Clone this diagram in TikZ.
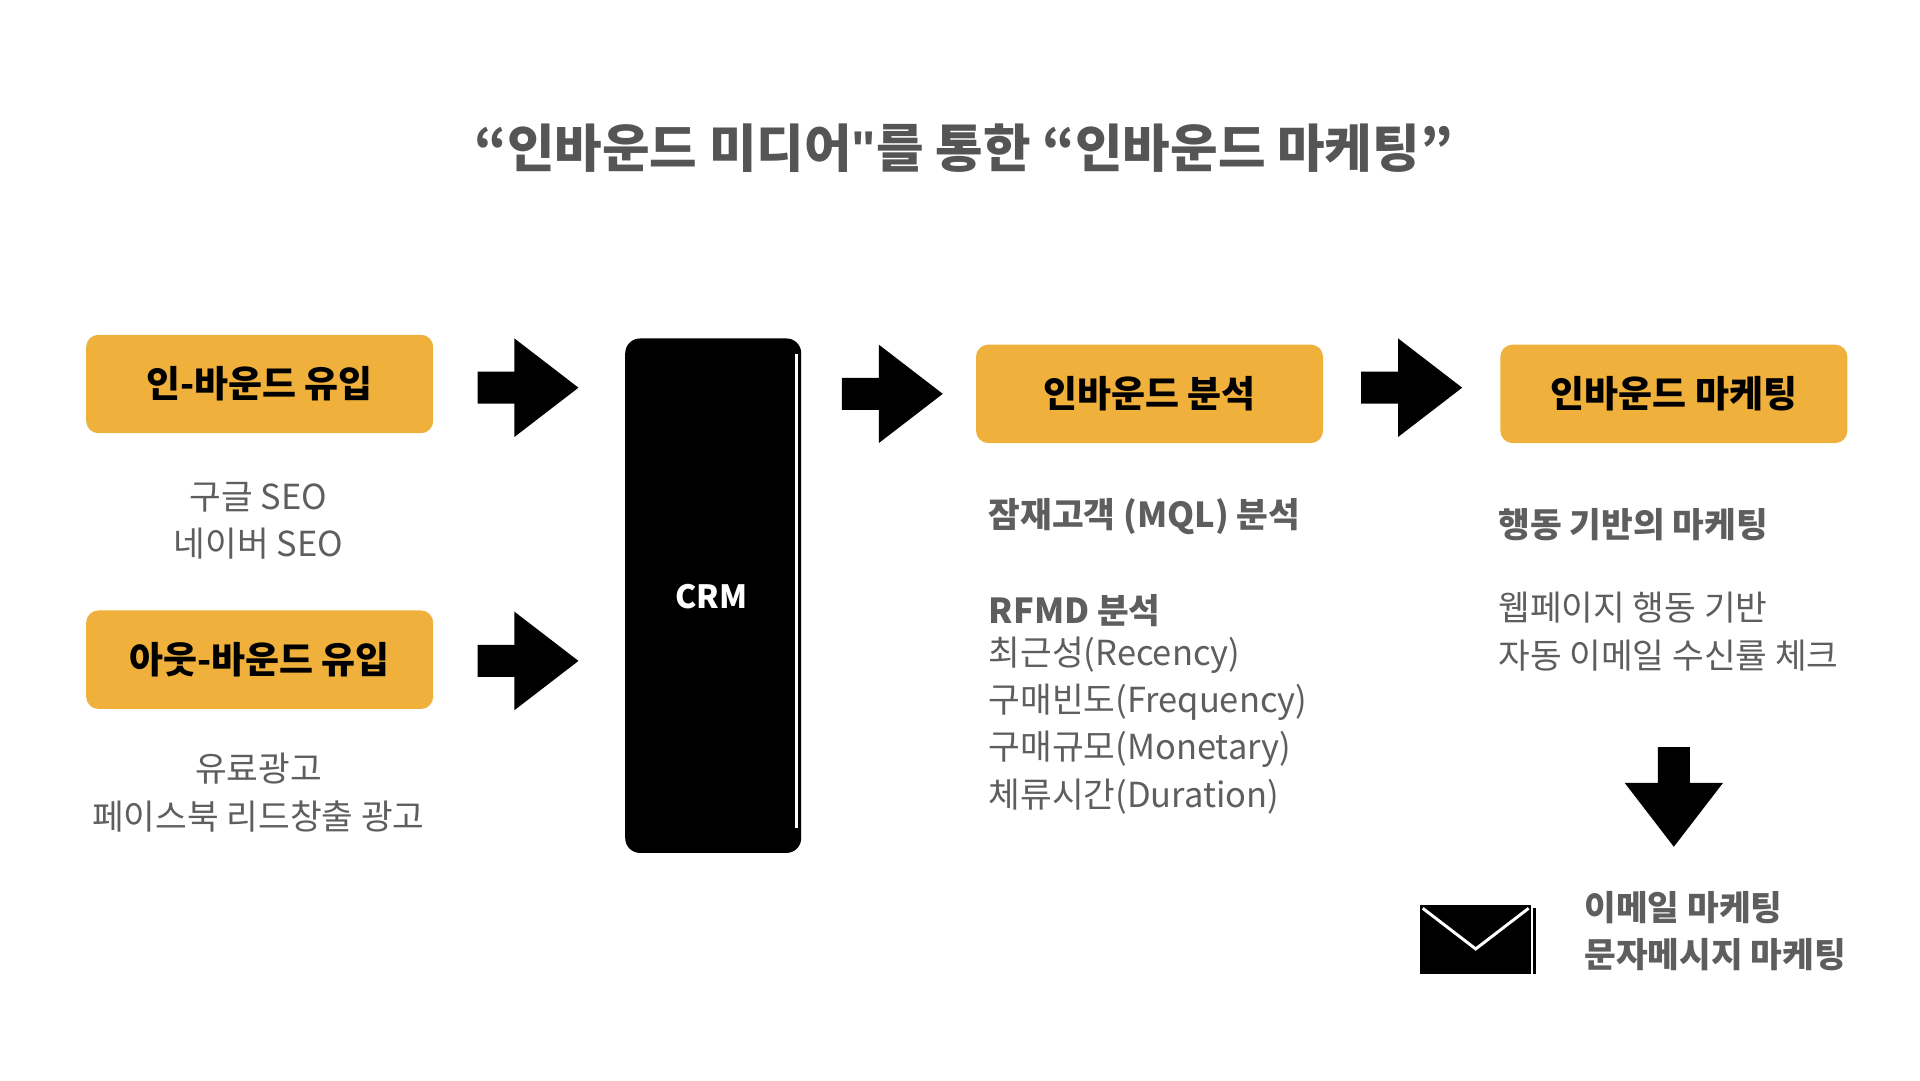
\documentclass[tikz,border=0pt]{standalone}
\usepackage{fontspec}
\setmainfont{Noto Sans CJK KR}
\newfontfamily\latinq{Liberation Sans}
\begin{document}
\begin{tikzpicture}[x=0.5pt,y=-0.5pt,
  orbox/.style={fill=boxor,rounded corners=5pt,minimum width=141pt,minimum height=40pt,inner sep=0pt,font=\fontsize{15}{18}\selectfont\bfseries},
  body/.style={text=txtgray,font=\fontsize{14}{19.2}\selectfont,inner sep=0pt},
  bodyb/.style={text=txtgray,font=\fontsize{14}{19.2}\selectfont\bfseries,inner sep=0pt}]
\definecolor{boxor}{HTML}{F0B13C}
\definecolor{txtgray}{HTML}{5E5E5E}
\definecolor{ttlgray}{HTML}{555555}
\useasboundingbox[fill=white] (0,0) rectangle (1560,878);
\newcommand{\rarrow}[2]{\fill (#1,#2-13) -- (#1+30,#2-13) -- (#1+30,#2-40) -- (#1+82,#2) -- (#1+30,#2+40) -- (#1+30,#2+13) -- (#1,#2+13) -- cycle;}
\node[font=\fontsize{21}{24}\selectfont\bfseries,text=ttlgray] (title) at (783,120) {“인바운드 미디어{\latinq\char34}를 통한 “인바운드 마케팅”};
\node[orbox] (b1) at (211,312) {인-바운드 유입};
\node[body,align=center] (t1) at (210,423) {구글 SEO\\네이버 SEO};
\node[orbox] (b2) at (211,536) {아웃-바운드 유입};
\node[body,align=center] (t2) at (210,644) {유료광고\\페이스북 리드창출 광고};
\rarrow{388}{315}
\rarrow{388}{537}
\fill[rounded corners=6pt] (508,275) rectangle (651,693);
\draw[white,line width=1.2pt] (647,288) -- (647,673);
\node[text=white,font=\fontsize{13}{16}\selectfont\bfseries] (crm) at (578,485) {CRM};
\rarrow{684}{320}
\node[orbox] (b3) at (934,320) {인바운드 분석};
\rarrow{1106}{315}
\node[orbox] (b4) at (1360,320) {인바운드 마케팅};
\node[bodyb,anchor=west] (m1) at (803,420) {잠재고객 (MQL) 분석};
\node[bodyb,anchor=west] (m2) at (803,496) {RFMD 분석};
\node[body,anchor=north west,align=left] (m3) at (803,517) {최근성(Recency)\\구매빈도(Frequency)\\구매규모(Monetary)\\체류시간(Duration)};
\node[bodyb,anchor=west] (r1) at (1217,426) {행동 기반의 마케팅};
\node[body,anchor=north west,align=left] (r2) at (1217,481) {웹페이지 행동 기반\\자동 이메일 수신률 체크};
\fill (1347,607) -- (1373,607) -- (1373,636) -- (1400,636) -- (1360,688) -- (1320,636) -- (1347,636) -- cycle;
\fill (1154,735) rectangle (1244,791);
\draw[white,line width=1.2pt] (1156,738) -- (1199,771) -- (1242,738);
\draw[line width=1.2pt] (1247,738) -- (1247,791);
\node[bodyb,anchor=north west,align=left] (e1) at (1287,724) {이메일 마케팅\\문자메시지 마케팅};
\end{tikzpicture}
\end{document}
